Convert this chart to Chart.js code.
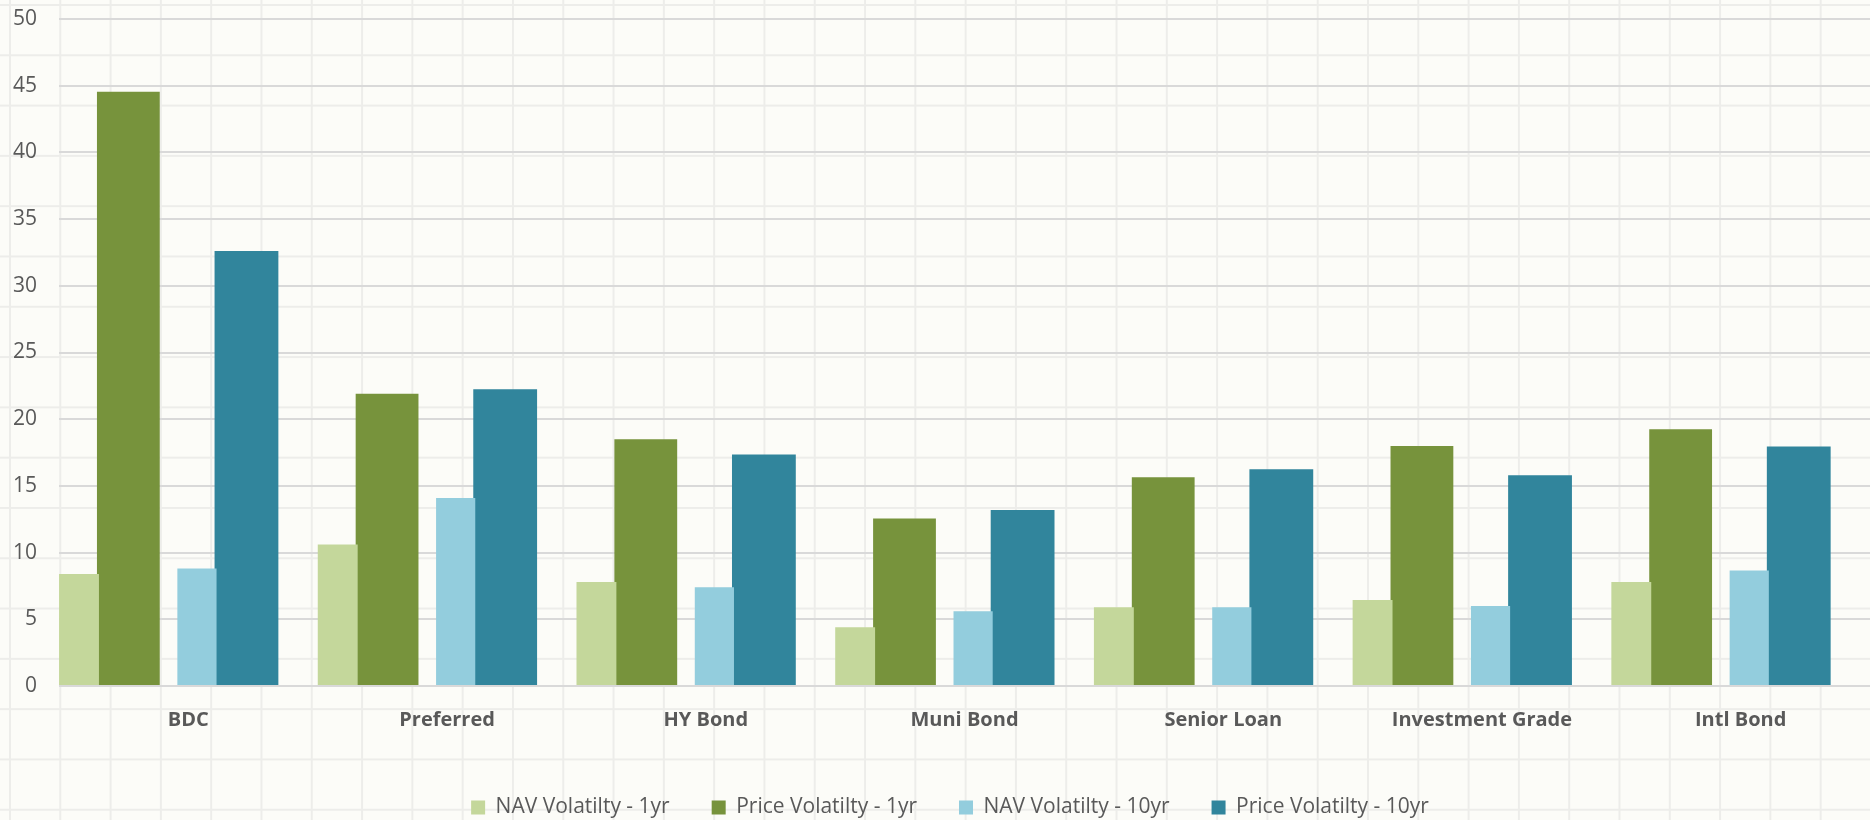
<!DOCTYPE html>
<html>
<head>
<meta charset="utf-8">
<title>NAV vs Price Volatility</title>
<script src="https://cdn.jsdelivr.net/npm/chart.js@4/dist/chart.umd.min.js"></script>
<style>
  html, body {
    margin: 0;
    padding: 0;
  }
  /* graph-paper backdrop behind the transparent canvas */
  .paper {
    width: 1870px;
    height: 820px;
    background-color: #fcfcf8;
    background-image:
      linear-gradient(to right, #ededea 2px, transparent 2px),
      linear-gradient(to bottom, #ededea 2px, transparent 2px);
    background-size: 50.3px 50.3px;
    background-position: 9px 4px;
  }
  canvas { display: block; }
</style>
</head>
<body>
<div class="paper">
  <canvas id="volChart" width="1870" height="820"></canvas>
</div>
<script>
const categories   = ['BDC', 'Preferred', 'HY Bond', 'Muni Bond', 'Senior Loan', 'Investment Grade', 'Intl Bond'];
const navVol1yr    = [8.4, 10.6, 7.8, 4.4, 5.9, 6.45, 7.8];
const priceVol1yr  = [44.55, 21.9, 18.5, 12.55, 15.65, 18.0, 19.25];
const navVol10yr   = [8.8, 14.1, 7.4, 5.6, 5.9, 6.0, 8.65];
const priceVol10yr = [32.6, 22.25, 17.35, 13.2, 16.25, 15.8, 17.95];

const TEXT_COLOR = '#595959';
const GRID_COLOR = '#d9d9d9';

Chart.defaults.font.family = '"Open Sans", "Liberation Sans", sans-serif';
Chart.defaults.color = TEXT_COLOR;

// The light (NAV) bars sit half-tucked under the dark (price) bars, so each
// dataset gets its own category/bar percentages to place it inside the group.
const datasets = [
  {
    label:              'NAV Volatilty - 1yr',
    data:               navVol1yr,
    backgroundColor:    '#c4d79b',
    categoryPercentage: 1.1271,
    barPercentage:      0.5473,
  },
  {
    label:              'Price Volatilty - 1yr',
    data:               priceVol1yr,
    backgroundColor:    '#77933c',
    categoryPercentage: 1.8554,
    barPercentage:      0.5233,
  },
  {
    label:              'NAV Volatilty - 10yr',
    data:               navVol10yr,
    backgroundColor:    '#93cddd',
    categoryPercentage: 0.2659,
    barPercentage:      2.279,
  },
  {
    label:              'Price Volatilty - 10yr',
    data:               priceVol10yr,
    backgroundColor:    '#31859c',
    categoryPercentage: 0.5989,
    barPercentage:      1.6473,
  },
];

// nudge the legend row a little to the right, like the original
const legendShift = {
  id: 'legendShift',
  afterLayout(chart) {
    if (chart.legend) chart.legend.left += 30;
  },
};

const ctx = document.getElementById('volChart').getContext('2d');

new Chart(ctx, {
  type: 'bar',
  data: {
    labels: categories,
    datasets: datasets.map((ds) => ({ ...ds, borderWidth: 0 })),
  },
  plugins: [legendShift],
  options: {
    responsive:          false,
    maintainAspectRatio: false,
    animation:           false,
    devicePixelRatio:    1,
    layout: {
      padding: { top: 19, left: 0, right: 0, bottom: -8 },
    },
    plugins: {
      tooltip: { enabled: false },
      legend: {
        display:  true,
        position: 'bottom',
        labels: {
          boxWidth:  14,
          boxHeight: 14,
          padding:   42,
          color:     TEXT_COLOR,
          font:      { size: 21 },
        },
      },
    },
    scales: {
      x: {
        grid:   { display: false },
        border: { display: false },
        ticks: {
          color:       TEXT_COLOR,
          padding:     14,
          maxRotation: 0,
          autoSkip:    false,
          font:        { size: 20, weight: 'bold' },
        },
        afterFit(scale) { scale.height = 69; },
      },
      y: {
        min: 0,
        max: 50,
        grid: {
          color:      GRID_COLOR,
          lineWidth:  2,
          tickLength: 22,
          tickColor:  'transparent',
        },
        border: { display: false },
        ticks: {
          stepSize: 5,
          color:    TEXT_COLOR,
          padding:  0,
          font:     { size: 21 },
        },
        afterFit(scale) { scale.width = 59; },
      },
    },
  },
});
</script>
</body>
</html>
